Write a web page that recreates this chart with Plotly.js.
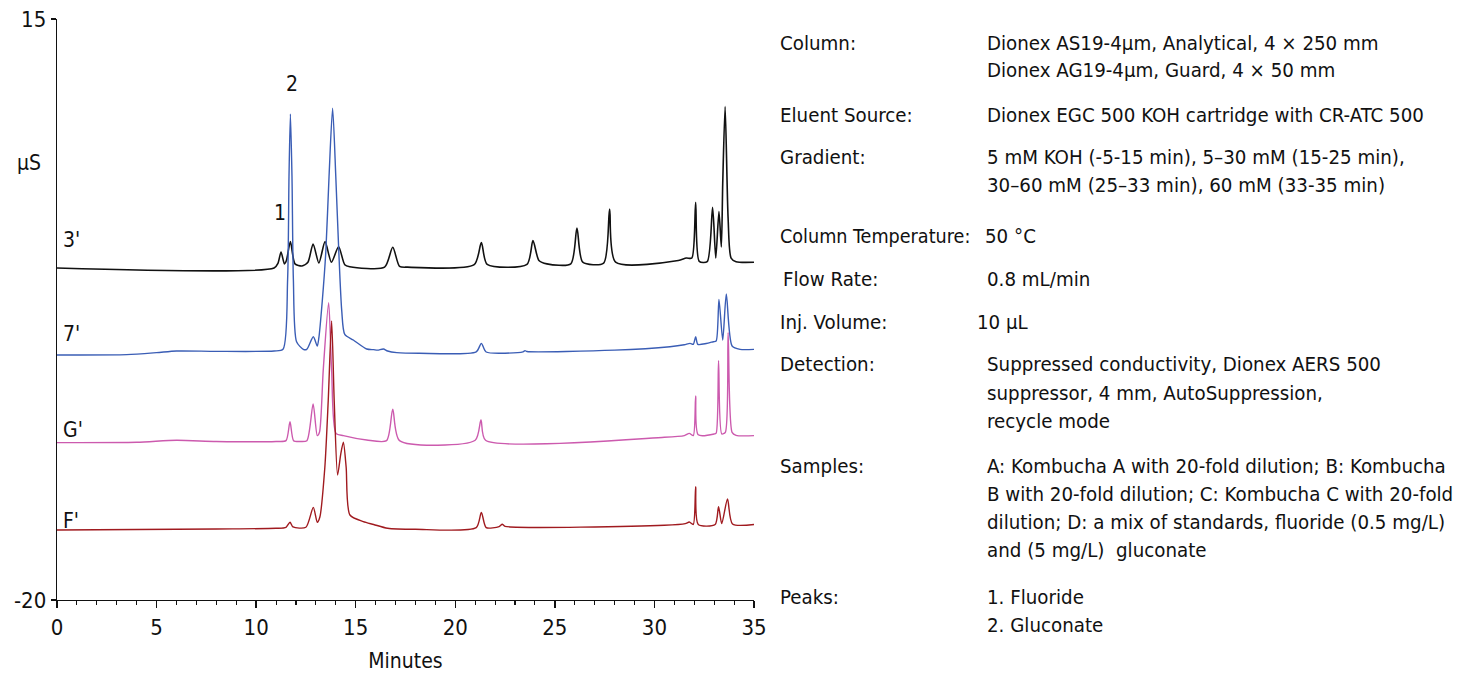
<!DOCTYPE html>
<html>
<head>
<meta charset="utf-8">
<script src="https://cdn.plot.ly/plotly-3.0.1.min.js"></script>
<style>html,body{margin:0;padding:0;background:#fff;}#chart{width:1473px;height:675px;}</style>
</head>
<body>
<div id="chart"></div>
<script>
// ---------- DATA ----------
// Trace 3' (black)
const t3 = [0, 10.9, 11.1, 11.25, 11.42, 11.52, 11.72, 11.95, 12.3, 12.6, 12.86, 13.15, 13.46, 13.78, 14.14, 14.45, 14.7, 16.45, 16.86, 17.2, 17.6, 20.95, 21.31, 21.6, 23.6, 23.9, 24.2, 24.6, 25.8, 26.11, 26.4, 27.45, 27.75, 28.05, 31.2, 31.6, 31.88, 32.07, 32.25, 32.65, 32.92, 33.08, 33.24, 33.36, 33.43, 33.55, 33.7, 33.85, 34.1, 35];
const y3 = [0, 0, 0.3, 0.96, 0.25, 0.45, 1.59, 0.25, 0.12, 0.35, 1.45, 0.3, 1.59, 0.35, 1.28, 0.2, 0.08, 0.05, 1.25, 0.1, 0.05, 0.2, 1.53, 0.22, 0.22, 1.65, 0.45, 0.25, 0.25, 2.41, 0.35, 0.3, 3.55, 0.35, 0.45, 0.6, 0.6, 3.96, 0.4, 0.38, 3.66, 0.6, 3.4, 1.27, 5.1, 9.72, 3.0, 0.6, 0.38, 0.35];

// Trace 7' (blue)
const t7 = [0, 3.5, 5.0, 6.0, 8.0, 10.9, 11.35, 11.58, 11.65, 11.72, 11.8, 11.87, 12.03, 12.37, 12.54, 12.87, 13.07, 13.15, 13.32, 13.5, 13.66, 13.84, 14.0, 14.15, 14.3, 14.45, 14.88, 15.55, 15.9, 16.1, 16.39, 16.6, 17.06, 18.2, 21.05, 21.31, 21.55, 23.4, 23.5, 23.6, 28.0, 30.78, 31.5, 31.79, 31.95, 32.07, 32.18, 32.6, 32.96, 33.1, 33.24, 33.43, 33.61, 33.9, 34.3, 35];
const y7 = [-5.24, -5.22, -5.1, -5.0, -5.02, -5.0, -4.9, -0.7, 5.5, 9.28, 5.5, -0.7, -4.44, -4.9, -4.9, -4.14, -4.7, -4.2, -2.0, 1.0, 5.5, 9.62, 5.5, 1.0, -2.6, -4.0, -4.34, -4.88, -4.92, -4.95, -4.88, -5.0, -5.1, -5.14, -5.05, -4.54, -5.06, -5.05, -4.98, -5.03, -4.95, -4.74, -4.62, -4.54, -4.6, -4.14, -4.6, -4.55, -4.44, -4.4, -1.89, -4.34, -1.57, -4.7, -4.9, -4.9];

// Trace G' (pink)
const tG = [0, 4.0, 6.0, 8.0, 11.0, 11.5, 11.7, 11.88, 12.2, 12.55, 12.86, 13.07, 13.18, 13.37, 13.64, 13.79, 14.01, 14.38, 15.55, 16.55, 16.86, 17.2, 21.0, 21.29, 21.52, 30.5, 31.5, 31.75, 31.95, 32.07, 32.2, 33.0, 33.1, 33.22, 33.38, 33.56, 33.7, 33.9, 34.1, 35];
const yG = [-10.52, -10.5, -10.38, -10.45, -10.45, -10.4, -9.26, -10.4, -10.45, -10.4, -8.19, -10.1, -9.9, -6.14, -2.09, -6.14, -9.96, -10.1, -10.36, -10.4, -8.51, -10.4, -10.38, -9.16, -10.38, -10.2, -10.1, -9.96, -10.1, -7.71, -10.05, -10.0, -9.95, -5.58, -10.0, -9.9, -3.9, -9.9, -10.08, -10.1];

// Trace F' (dark red)
const tF = [0, 8.0, 11.0, 11.5, 11.7, 11.85, 12.5, 12.87, 13.07, 13.2, 13.45, 13.62, 13.79, 13.92, 14.09, 14.25, 14.38, 14.52, 14.71, 15.38, 15.9, 16.6, 18.0, 21.05, 21.31, 21.55, 22.2, 22.36, 22.5, 30.5, 31.55, 31.75, 31.95, 32.07, 32.2, 33.05, 33.22, 33.38, 33.67, 33.92, 35];
const yF = [-15.78, -15.72, -15.68, -15.62, -15.32, -15.6, -15.62, -14.42, -15.32, -15.0, -12.0, -8.0, -3.19, -8.0, -12.47, -11.2, -10.5, -12.0, -14.88, -15.28, -15.45, -15.68, -15.74, -15.64, -14.72, -15.64, -15.58, -15.44, -15.56, -15.5, -15.4, -15.3, -15.45, -13.17, -15.45, -15.45, -14.38, -15.4, -13.92, -15.42, -15.45];

const traceNames = ["3'", "7'", "G'", "F'"];
const xTickVals = [0, 5, 10, 15, 20, 25, 30, 35];
const yTickVals = [15, -20];
const yTickText = ["15", "-20"];
const peakLabels = ["1", "2"];
const xTitle = "Minutes";
const yTitle = "μS";

const infoLabels = ["Column:", "Eluent Source:", "Gradient:", "Column Temperature:", "Flow Rate:", "Inj. Volume:", "Detection:", "Samples:", "Peaks:"];
const infoValues = [
  ["Dionex AS19-4μm, Analytical, 4 × 250 mm", "Dionex AG19-4μm, Guard, 4 × 50 mm"],
  ["Dionex EGC 500 KOH cartridge with CR-ATC 500"],
  ["5 mM KOH (-5-15 min), 5–30 mM (15-25 min),", "30–60 mM (25–33 min), 60 mM (33-35 min)"],
  ["50 °C"],
  ["0.8 mL/min"],
  ["10 μL"],
  ["Suppressed conductivity, Dionex AERS 500", "suppressor, 4 mm, AutoSuppression,", "recycle mode"],
  ["A: Kombucha A with 20-fold dilution; B: Kombucha", "B with 20-fold dilution; C: Kombucha C with 20-fold", "dilution; D: a mix of standards, fluoride (0.5 mg/L)", "and (5 mg/L)  gluconate"],
  ["1. Fluoride", "2. Gluconate"]
];

// ---------- LAYOUT / STYLE ----------
const FONT = "'DejaVu Sans Condensed', 'Liberation Sans Narrow', sans-serif";
const W = 1473, H = 675;
const L = 57, R = 754, T = 19, B = 600;
const px2x = p => (p - L) / (R - L);
const py2y = p => (B - p) / (B - T);

const colors = ["#111111", "#3a5db5", "#cc5aae", "#a01a1f"];
const series = [[t3, y3], [t7, y7], [tG, yG], [tF, yF]];
const data = series.map((s, i) => ({
  x: s[0], y: s[1], type: 'scatter', mode: 'lines', name: traceNames[i],
  line: {color: colors[i], width: i === 0 ? 1.6 : 1.4, shape: 'spline', smoothing: 0.7},
  hoverinfo: 'skip'
}));

const ann = [];
function addText(text, px, py, xanchor, size) {
  ann.push({text: text, xref: 'paper', yref: 'paper', x: px2x(px), y: py2y(py),
    xanchor: xanchor || 'left', yanchor: 'middle', showarrow: false,
    font: {family: FONT, size: size || 20.3, color: '#111'}});
}
// trace labels
const traceLabelY = [240, 334, 430, 521];
traceNames.forEach((n, i) => addText(n, 61, traceLabelY[i], 'left', 21));
// peak labels
addText(peakLabels[0], 280, 213, 'center', 21);
addText(peakLabels[1], 292, 84, 'center', 21);
// y unit
addText(yTitle, 29, 163, 'center', 21);
// info block
const labelX = [778, 778, 778, 778, 781, 778, 778, 778, 778];
const valueX = [985, 985, 985, 983, 985, 975, 985, 985, 985];
const lineY = [[43, 70], [115], [157, 185], [236], [279], [322], [364, 393, 421], [466, 494, 522, 550], [597, 625]];
infoLabels.forEach((lab, i) => {
  addText(lab, labelX[i], lineY[i][0], 'left', i === 3 ? 19.6 : 20.3);
  infoValues[i].forEach((v, j) => addText(v, valueX[i], lineY[i][j], 'left'));
});

const layout = {
  width: W, height: H,
  margin: {l: L, r: W - R, t: T, b: H - B, pad: 0},
  paper_bgcolor: '#fff', plot_bgcolor: '#fff',
  showlegend: false,
  font: {family: FONT, size: 21, color: '#111'},
  xaxis: {
    range: [0, 35], tickvals: xTickVals, ticks: 'outside', ticklen: 7, tickwidth: 1.3, tickcolor: '#111',
    showline: true, linecolor: '#111', linewidth: 1.3, showgrid: false, zeroline: false,
    minor: {dtick: 1, ticks: 'outside', ticklen: 4, tickwidth: 1.1, tickcolor: '#111'},
    tickfont: {family: FONT, size: 22, color: '#111'},
    title: {text: xTitle, font: {family: FONT, size: 21, color: '#111'}, standoff: 14}
  },
  yaxis: {
    range: [-20, 15], tickvals: yTickVals, ticktext: yTickText, ticks: 'outside', ticklen: 5,
    tickwidth: 1.3, tickcolor: '#111', showline: true, linecolor: '#111', linewidth: 1.3,
    showgrid: false, zeroline: false,
    tickfont: {family: FONT, size: 22, color: '#111'}
  },
  annotations: ann
};

Plotly.newPlot('chart', data, layout, {displayModeBar: false, staticPlot: true});
</script>
</body>
</html>
